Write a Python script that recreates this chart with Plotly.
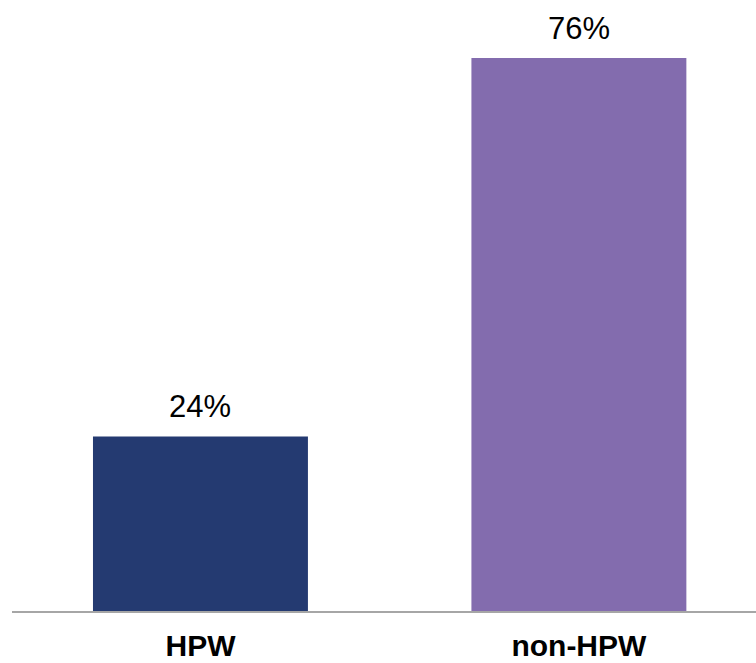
import plotly.graph_objects as go

categories = ["HPW", "non-HPW"]
values = [24, 76]
value_labels = ["24%", "76%"]
colors = ["#243A71", "#836CAE"]

FONT = "Liberation Sans, Arial, sans-serif"

fig = go.Figure()
fig.add_trace(go.Bar(
    x=categories, y=values, width=0.568,
    marker=dict(color=colors, line=dict(width=0)),
    hoverinfo="skip",
))
for c, v, t in zip(categories, values, value_labels):
    fig.add_annotation(
        x=c, y=v, text=t, showarrow=False, yanchor="bottom", yshift=10,
        font=dict(family=FONT, size=31, color="#000000"),
    )
fig.update_layout(
    width=756, height=663,
    margin=dict(l=12, r=0, t=29, b=52, autoexpand=False),
    paper_bgcolor="white", plot_bgcolor="white",
    showlegend=False,
    font=dict(family=FONT, color="#000000"),
)
fig.update_xaxes(
    range=[-0.498, 1.468], showline=True, linecolor="#A6A6A6", linewidth=2,
    ticks="", showgrid=False, ticklabelstandoff=7, automargin=False,
    tickfont=dict(family=FONT, size=30, color="#000000", weight="bold"),
)
fig.update_yaxes(range=[0, 80], visible=False, showgrid=False, zeroline=False,
                 automargin=False)
fig.write_html(
    "out.html",
    config={"displayModeBar": False},
    post_script="document.body.style.margin='0';document.body.style.overflow='hidden';",
)
